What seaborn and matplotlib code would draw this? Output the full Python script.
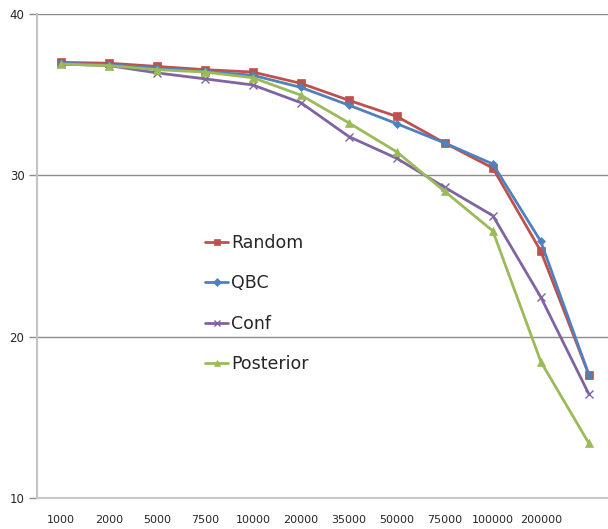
import numpy as np
import pandas as pd
import seaborn as sns
import matplotlib.pyplot as plt

sizes = ['1000', '2000', '5000', '7500', '10000', '20000', '35000',
         '50000', '75000', '100000', '200000', '']

random_vals = [37.0, 36.95, 36.75, 36.55, 36.4, 35.7, 34.65, 33.65, 32.0, 30.45, 25.3, 17.65]
qbc_vals = [36.95, 36.85, 36.65, 36.45, 36.2, 35.45, 34.35, 33.2, 32.0, 30.7, 25.9, 17.65]
conf_vals = [36.9, 36.8, 36.35, 35.98, 35.6, 34.5, 32.4, 31.05, 29.25, 27.5, 22.45, 16.45]
posterior_vals = [36.9, 36.8, 36.55, 36.4, 36.05, 34.97, 33.25, 31.45, 29.0, 26.55, 18.45, 13.4]

series = {'Random': random_vals, 'QBC': qbc_vals, 'Conf': conf_vals, 'Posterior': posterior_vals}
palette = {'Random': '#C0504D', 'QBC': '#4F81BD', 'Conf': '#8064A2', 'Posterior': '#9BBB59'}
markers = {'Random': 's', 'QBC': 'D', 'Conf': 'x', 'Posterior': '^'}
msizes = {'Random': 6, 'QBC': 4.5, 'Conf': 6, 'Posterior': 6}

rows = []
for name, vals in series.items():
    for i, v in enumerate(vals):
        rows.append({'idx': i, 'value': v, 'method': name})
df = pd.DataFrame(rows)

sns.set_style('white')
plt.rcParams['font.family'] = ['DejaVu Sans']

fig = plt.figure(figsize=(6.08, 5.29), dpi=100)
ax = fig.add_axes([37 / 608, 1 - 498 / 529, 1 - 37 / 608, (498 - 14) / 529])

for name in series:
    sub = df[df['method'] == name]
    sns.lineplot(data=sub, x='idx', y='value', ax=ax, color=palette[name],
                 marker=markers[name], markersize=msizes[name],
                 markeredgecolor=palette[name], markeredgewidth=1.0 if name == 'Conf' else 0.5,
                 linewidth=2.0, label=name)

ax.set_xlim(-0.5, 11.4)
ax.set_ylim(10, 40)
ax.set_yticks([10, 20, 30, 40])
ax.set_xticks(range(len(sizes)))
ax.set_xticklabels(sizes)
ax.set_xlabel('')
ax.set_ylabel('')

ax.set_axisbelow(True)
ax.yaxis.grid(True, color='#8c8c8c', linewidth=1.0)
ax.xaxis.grid(False)
for s in ['top', 'right']:
    ax.spines[s].set_visible(False)
ax.spines['left'].set_color('#c4c4c4')
ax.spines['left'].set_linewidth(1.5)
ax.spines['bottom'].set_color('#c8c8c8')
ax.spines['bottom'].set_linewidth(1.5)

ax.tick_params(axis='y', left=True, length=6, width=1, color='#8c8c8c',
               labelsize=8.5, pad=3)
ax.tick_params(axis='x', bottom=False, labelsize=8, pad=9)

leg = ax.legend(loc='center left', bbox_to_anchor=(0.295, 0.402), frameon=False,
                fontsize=12.5, handlelength=1.3, handletextpad=0.2,
                labelspacing=1.3, borderpad=0, borderaxespad=0, markerscale=0.8)

fig.savefig('out.png', dpi=100)
